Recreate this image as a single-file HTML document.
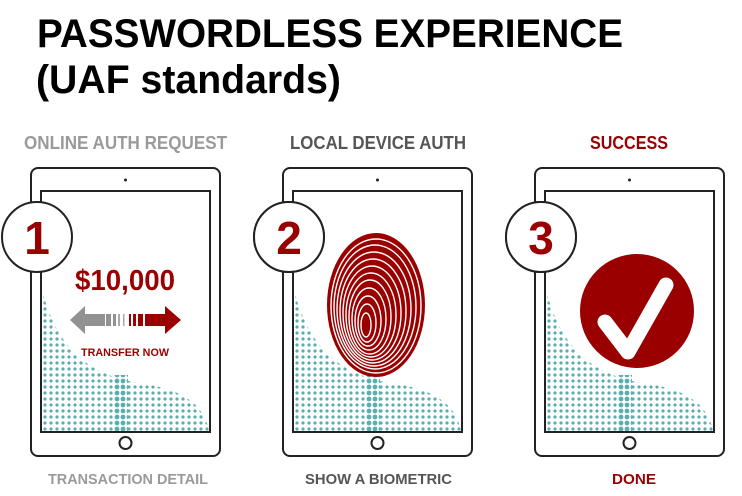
<!DOCTYPE html>
<html><head><meta charset="utf-8"><style>
html,body{margin:0;padding:0;background:#fff;}
svg{display:block;font-family:"Liberation Sans",sans-serif;}
</style></head><body>
<svg width="742" height="496" viewBox="0 0 742 496">
<defs>
<pattern id="dots" width="6" height="6" patternUnits="userSpaceOnUse">
<circle cx="3" cy="3" r="1.6" fill="#5aaeb0"/>
</pattern>
<pattern id="dotsBig" width="6" height="6" patternUnits="userSpaceOnUse">
<circle cx="3" cy="3" r="2.4" fill="#5aaeb0"/>
</pattern>
</defs>
<text x="37" y="47" font-size="40" font-weight="bold" textLength="586" lengthAdjust="spacingAndGlyphs">PASSWORDLESS EXPERIENCE</text>
<text x="36" y="93" font-size="40" font-weight="bold" textLength="305" lengthAdjust="spacingAndGlyphs">(UAF standards)</text>

<text x="24" y="149" font-size="18" font-weight="bold" fill="#9a9a9a" textLength="203" lengthAdjust="spacingAndGlyphs">ONLINE AUTH REQUEST</text>
<text x="290" y="149" font-size="18" font-weight="bold" fill="#555" textLength="176" lengthAdjust="spacingAndGlyphs">LOCAL DEVICE AUTH</text>
<text x="590" y="149" font-size="18" font-weight="bold" fill="#9b0000" textLength="78" lengthAdjust="spacingAndGlyphs">SUCCESS</text>

<text x="48" y="484" font-size="15" font-weight="bold" fill="#9a9a9a" textLength="160" lengthAdjust="spacingAndGlyphs">TRANSACTION DETAIL</text>
<text x="305" y="484" font-size="15" font-weight="bold" fill="#555" textLength="147" lengthAdjust="spacingAndGlyphs">SHOW A BIOMETRIC</text>
<text x="612" y="484" font-size="15" font-weight="bold" fill="#9b0000" textLength="44" lengthAdjust="spacingAndGlyphs">DONE</text>

<g id="tab1">
<rect x="31" y="168" width="189" height="288" rx="7" fill="#fff" stroke="#222" stroke-width="2"/>
<rect x="41" y="191" width="169" height="241" fill="#fff" stroke="#222" stroke-width="2"/>
<path d="M42,290 C60,360 100,378 150,385 C190,392 205,410 209,431 L42,431 Z" fill="url(#dots)"/>
<rect x="114" y="375" width="14" height="56" fill="url(#dotsBig)"/>
<circle cx="125.5" cy="180" r="1.5" fill="#222"/>
<circle cx="125.5" cy="443" r="6" fill="#fff" stroke="#222" stroke-width="2"/>
<circle cx="37" cy="237" r="35" fill="#fff" stroke="#222" stroke-width="2"/>
<text x="37" y="254" font-size="46" font-weight="bold" fill="#9b0000" text-anchor="middle">1</text>
</g>
<text x="125" y="290" font-size="29" font-weight="bold" fill="#9b0000" text-anchor="middle" textLength="100" lengthAdjust="spacingAndGlyphs">$10,000</text>
<g>
<polygon points="70,320 85,306 85,314 105,314 105,326 85,326 85,334" fill="#929292"/>
<rect x="106" y="314" width="5" height="12" fill="#929292"/>
<rect x="113" y="314" width="3" height="12" fill="#929292"/>
<rect x="118" y="314" width="2" height="12" fill="#aaa"/>
<rect x="123" y="314" width="1.5" height="12" fill="#aaa"/>
<rect x="129" y="314" width="2" height="12" fill="#9b0000"/>
<rect x="133" y="314" width="3" height="12" fill="#9b0000"/>
<rect x="138" y="314" width="5" height="12" fill="#9b0000"/>
<polygon points="145,314 165,314 165,306 181,320 165,334 165,326 145,326" fill="#9b0000"/>
</g>
<text x="125" y="356" font-size="11" font-weight="bold" fill="#9b0000" text-anchor="middle" textLength="88" lengthAdjust="spacingAndGlyphs">TRANSFER NOW</text>

<use href="#tab1" x="252"/>
<circle cx="289" cy="237" r="35" fill="#fff" stroke="#222" stroke-width="2"/>
<text x="289" y="254" font-size="46" font-weight="bold" fill="#9b0000" text-anchor="middle">2</text>
<g>
<ellipse cx="376" cy="305" rx="49" ry="72" fill="#9b0000"/>
<g fill="none" stroke="#fff" stroke-width="1.4">
<ellipse cx="376" cy="306" rx="45" ry="67"/>
<ellipse cx="375" cy="307" rx="41" ry="62"/>
<ellipse cx="374" cy="309" rx="37" ry="57"/>
<ellipse cx="373" cy="311" rx="33" ry="52"/>
<ellipse cx="372" cy="313" rx="29" ry="47"/>
<ellipse cx="371" cy="315" rx="25" ry="42"/>
<ellipse cx="370" cy="317" rx="21" ry="37"/>
<ellipse cx="369" cy="319" rx="17" ry="31"/>
<ellipse cx="368" cy="321" rx="13" ry="25"/>
<ellipse cx="367" cy="323" rx="9" ry="19"/>
<ellipse cx="366" cy="325" rx="5" ry="12"/>
</g>
</g>

<use href="#tab1" x="504"/>
<circle cx="541" cy="237" r="35" fill="#fff" stroke="#222" stroke-width="2"/>
<text x="541" y="254" font-size="46" font-weight="bold" fill="#9b0000" text-anchor="middle">3</text>
<g>
<circle cx="637" cy="311" r="57" fill="#9b0000"/>
<polyline points="605,322 628,352 666,285" fill="none" stroke="#fff" stroke-width="15" stroke-linecap="round" stroke-linejoin="round"/>
</g>
</svg>
</body></html>
